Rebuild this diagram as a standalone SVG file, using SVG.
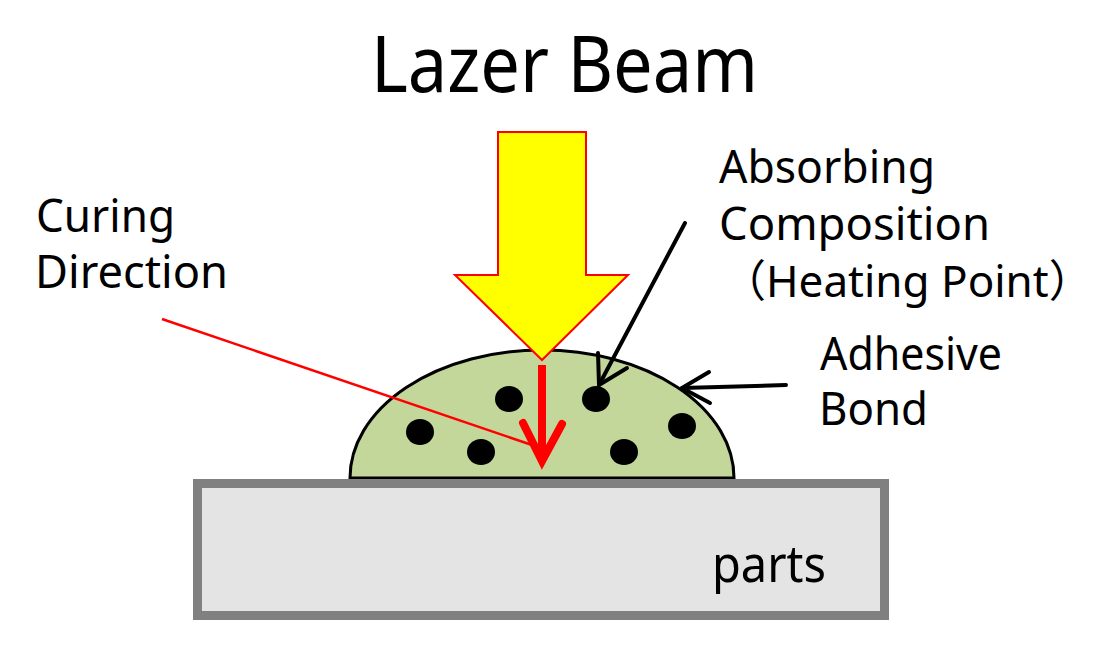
<svg xmlns="http://www.w3.org/2000/svg" width="1102" height="662" viewBox="0 0 1102 662">
<style>
text{font-family:"Noto Sans","Noto Sans CJK JP",sans-serif;fill:#000}
.lbl{font-size:45px}
.dot{fill:#000}
.blk{stroke:#000;stroke-width:4;fill:none;stroke-linecap:round;stroke-linejoin:round}
</style>
<rect width="1102" height="662" fill="#fff"/>
<g id="title"><text x="371" y="92" font-size="79" textLength="387" lengthAdjust="spacingAndGlyphs">Lazer Beam</text></g>
<g id="adhesive">
<path d="M350,478 A192,128 0 0 1 734,478 Z" fill="#c4d79b" stroke="#000" stroke-width="3"/>
<ellipse class="dot" cx="509" cy="399" rx="14" ry="13"/>
<ellipse class="dot" cx="596" cy="399" rx="14" ry="13"/>
<ellipse class="dot" cx="420" cy="432" rx="14" ry="13"/>
<ellipse class="dot" cx="481" cy="452" rx="14" ry="13"/>
<ellipse class="dot" cx="624" cy="452" rx="14" ry="13"/>
<ellipse class="dot" cx="682" cy="426" rx="14" ry="13"/>
</g>
<g id="parts">
<rect x="197.5" y="483.5" width="687" height="132" fill="#e4e4e4" stroke="#808080" stroke-width="9"/>
<text x="712" y="582" font-size="51" textLength="114" lengthAdjust="spacingAndGlyphs">parts</text>
</g>
<g id="beam">
<polygon points="498,132 586,132 586,275 628,275 542,360 455,275 498,275" fill="#ffff00" stroke="#ff0000" stroke-width="2"/>
</g>
<g id="labels">
<text class="lbl" x="36" y="232" textLength="139" lengthAdjust="spacingAndGlyphs">Curing</text>
<text class="lbl" x="35" y="288" textLength="193" lengthAdjust="spacingAndGlyphs">Direction</text>
<text class="lbl" x="719" y="183" textLength="216" lengthAdjust="spacingAndGlyphs">Absorbing</text>
<text class="lbl" x="719" y="240" textLength="271" lengthAdjust="spacingAndGlyphs">Composition</text>
<text x="722" y="297" font-size="44">（Heating Point）</text>
<text class="lbl" x="820" y="370" textLength="182" lengthAdjust="spacingAndGlyphs">Adhesive</text>
<text class="lbl" x="819" y="425" textLength="109" lengthAdjust="spacingAndGlyphs">Bond</text>
</g>
<g id="connectors">
<line x1="162" y1="319" x2="532" y2="445" stroke="#ff0000" stroke-width="2.5"/>
<line x1="542" y1="365" x2="542" y2="458" stroke="#ff0000" stroke-width="8"/>
<polyline points="523,423 542,461 562,424" fill="none" stroke="#ff0000" stroke-width="8" stroke-linecap="round" stroke-linejoin="miter"/>
<line class="blk" x1="685" y1="223" x2="599" y2="385"/>
<polyline class="blk" points="598,353 599,385 627,368"/>
<line class="blk" x1="786" y1="385" x2="682" y2="388"/>
<polyline class="blk" points="709,372 682,388 710,403"/>
</g>
</svg>
